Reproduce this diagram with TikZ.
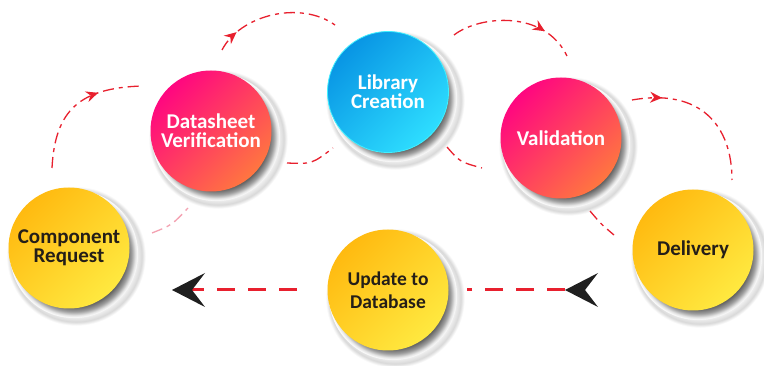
\documentclass[tikz,border=0pt]{standalone}
\usepackage{fontspec}
\setmainfont{Carlito}
\usetikzlibrary{arrows.meta,decorations.markings}
\definecolor{ylA}{HTML}{FFBA10}
\definecolor{ylB}{HTML}{FFE940}
\definecolor{pkA}{HTML}{FF0680}
\definecolor{pkB}{HTML}{FF7640}
\definecolor{blA}{HTML}{0895E4}
\definecolor{blB}{HTML}{2EDEFF}
\definecolor{rimB}{HTML}{40F0FF}
\definecolor{dashred}{HTML}{E8202E}
\definecolor{lightred}{HTML}{F4A2B2}
\definecolor{txtdark}{HTML}{241E18}
\pgfdeclareradialshading{halo}{\pgfpoint{0bp}{0bp}}{color(0bp)=(white); color(20.5bp)=(white); color(23.5bp)=(black!15); color(24.8bp)=(white); color(50bp)=(white)}
\pgfdeclareradialshading{dropsh}{\pgfpoint{0bp}{0bp}}{color(0bp)=(black!66); color(20.5bp)=(black!62); color(22.5bp)=(black!38); color(24bp)=(black!10); color(25bp)=(white); color(50bp)=(white)}
\newcommand\mybubble[4]{%
  \shade[shading=halo, shift={(#2)}] (7,8) circle (70);
  \shade[shading=dropsh, shift={(#2)}] (5,6) circle (64);
  \node[#3] (#1) at (#2) {#4};
}
\tikzset{
  bubble/.style={circle, minimum size=121pt, inner sep=0pt, align=center,
    font=\bfseries\fontsize{21}{19}\selectfont},
  yellowb/.style={bubble, top color=ylA, bottom color=ylB, shading angle=45, text=txtdark},
  pinkb/.style={bubble, top color=pkA, bottom color=pkB, shading angle=45, text=white},
  blueb/.style={bubble, top color=blA, bottom color=blB, shading angle=45, text=white, draw=rimB, line width=0.8pt},
  dasharc/.style={draw=dashred, line width=1.3pt, dash pattern=on 11pt off 5pt on 4pt off 5pt},
  marrow/.style={postaction={decorate, decoration={markings,
      mark=at position #1 with {\arrow{Stealth[length=12pt,width=11pt,inset=4pt,color=dashred]}}}}},
  flowline/.style={draw=dashred, line width=3pt, dash pattern=on 18pt off 13pt},
  lhead/.pic={\fill[black!88] (0,0) -- (33,-17) .. controls (27,-9) .. (20,0) .. controls (27,9) .. (33,17) -- cycle;}
}
\begin{document}
\begin{tikzpicture}[x=1pt,y=-1pt]
\useasboundingbox (0,0) rectangle (764,366);
\fill[white] (0,0) rectangle (764,366);

\mybubble{comp}{69,248}{yellowb}{Component\\Request}
\mybubble{data}{211,131}{pinkb}{Datasheet\\Verification}
\mybubble{lib}{388,92}{blueb}{Library\\Creation}
\mybubble{val}{561,138}{pinkb}{Validation}
\mybubble{del}{693,250}{yellowb}{Delivery}
\mybubble{upd}{388,290}{yellowb, font=\bfseries\fontsize{19.5}{23}\selectfont}{Update to\\Database}

% upper arcs with arrows
\coordinate (a1s) at (52,168); \coordinate (a1e) at (142,86);
\draw[dasharc, marrow=0.68] (a1s) .. controls (55,110) and (80,88) .. (a1e);
\coordinate (a2s) at (222,50); \coordinate (a2e) at (335,25);
\draw[dasharc, marrow=0.18] (a2s) .. controls (240,15) and (300,0) .. (a2e);
\coordinate (a3s) at (454,35); \coordinate (a3e) at (567,56);
\draw[dasharc, marrow=0.74] (a3s) .. controls (480,15) and (545,10) .. (a3e);
\coordinate (a4s) at (632,100); \coordinate (a4e) at (732,180);
\draw[dasharc, marrow=0.2] (a4s) .. controls (700,88) and (732,125) .. (a4e);

% short links between bubbles
\coordinate (b1s) at (152,233); \coordinate (b1e) at (188,208);
\draw[dasharc, draw=lightred] (b1s) .. controls (172,225) .. (b1e);
\coordinate (b2s) at (287,163); \coordinate (b2e) at (333,148);
\draw[dasharc] (b2s) .. controls (312,164) .. (b2e);
\coordinate (b3s) at (447,147); \coordinate (b3e) at (482,168);
\draw[dasharc] (b3s) .. controls (460,162) .. (b3e);
\coordinate (b4s) at (590,211); \coordinate (b4e) at (614,235);
\draw[dasharc] (b4s) .. controls (601,224) .. (b4e);

% bottom flow
\coordinate (la) at (186,290); \coordinate (lb) at (307,290);
\draw[flowline] (la) -- (lb);
\pic at (172,290) {lhead};
\coordinate (ra) at (565,290); \coordinate (rb) at (467,290);
\draw[flowline] (ra) -- (rb);
\pic at (565,290) {lhead};
\end{tikzpicture}
\end{document}
